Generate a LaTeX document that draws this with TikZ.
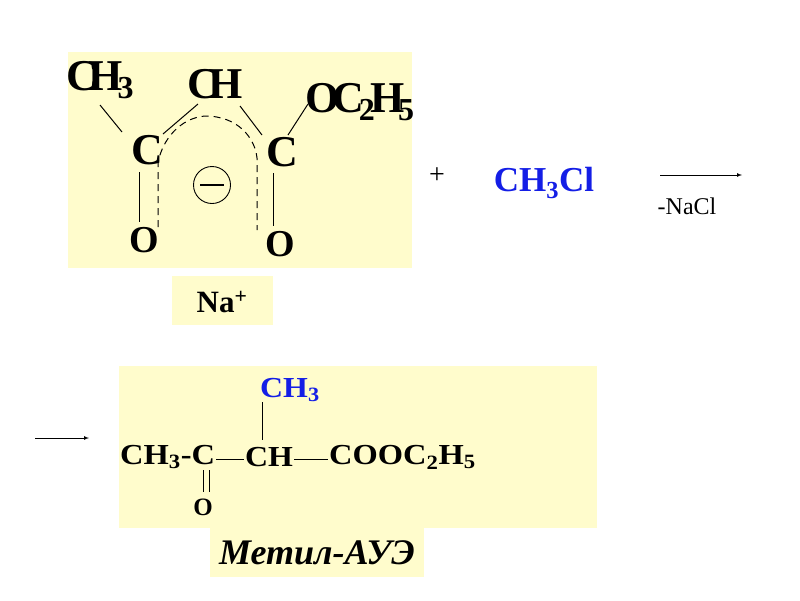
\documentclass[tikz,border=0pt]{standalone}
\usepackage{fontspec}
\setmainfont{Liberation Serif}
\begin{document}
\begin{tikzpicture}[x=1pt,y=-1pt,
  big/.style={font=\fontsize{44}{44}\selectfont\bfseries,inner sep=0pt},
  mid/.style={font=\fontsize{29}{29}\selectfont\bfseries,inner sep=0pt},
  bond/.style={line width=1pt},
  dbond/.style={line width=1pt,dash pattern=on 7pt off 5pt},
  bgbox/.style={fill=yellow!20,draw=none}]
\useasboundingbox (0,0) rectangle (800,600);
\fill[bgbox] (68,52) rectangle (412,268);
\fill[bgbox] (172,276) rectangle (273,325);
\fill[bgbox] (119,366) rectangle (597,528);
\fill[bgbox] (210,528) rectangle (424,577);
% top molecule
\node[big] (ch3) at (100,80) {C\kern-10pt H\kern-5pt\raisebox{-8pt}{\fontsize{32}{32}\selectfont 3}};
\node[big] (ch) at (215,84) {C\kern-10pt H};
\node[big] (oc) at (360,102) {O\kern-8pt C\kern-5pt\raisebox{-8pt}{\fontsize{32}{32}\selectfont 2}\kern-4pt H\kern-7pt\raisebox{-8pt}{\fontsize{32}{32}\selectfont 5}};
\node[big] (c1) at (147,150) {C};
\node[big] (c2) at (282,152) {C};
\node[big,font=\fontsize{38}{38}\selectfont\bfseries] (o1) at (144,240) {O};
\node[big,font=\fontsize{38}{38}\selectfont\bfseries] (o2) at (280,244) {O};
\node[draw,circle,minimum size=37pt,inner sep=0pt,line width=0.9pt] (minus) at (212,185) {};
\draw[line width=1.2pt] ([xshift=-12pt]minus.center) -- ([xshift=12pt]minus.center);
\draw[bond] (100,105) -- (122,132);
\draw[bond] (163,134) -- (198,104);
\draw[bond] (240,106) -- (262,135);
\draw[bond] (288,135) -- (308,104);
\draw[bond] (139,172) -- (139,222);
\draw[bond] (273,173) -- (273,226);
\draw[dbond] (158,227) -- (158,163) .. controls (162,140) and (180,118) .. (205,116) .. controls (238,116) and (255,138) .. (257,158) -- (257,230);
\node[mid,font=\fontsize{31}{31}\selectfont\bfseries] (na) at (222,302) {Na\textsuperscript{+}};
\node[font=\fontsize{28}{28}\selectfont,inner sep=0pt] (plus) at (437,176) {+};
\node[mid,font=\fontsize{35}{35}\selectfont\bfseries,text={rgb,255:red,20;green,30;blue,230}] (rg) at (544,183) {CH\textsubscript{3}Cl};
\coordinate (a1) at (660,175);
\coordinate (a2) at (742,175);
\draw[-latex,line width=0.7pt] (a1) -- (a2);
\node[font=\fontsize{24}{24}\selectfont,inner sep=0pt] (nacl) at (687,206) {-NaCl};
% bottom
\coordinate (b1) at (35,438);
\coordinate (b2) at (89,438);
\draw[-latex,line width=0.7pt] (b1) -- (b2);
\node[mid,anchor=west] (left) at (120,457) {\scalebox{1.12}[1]{CH\textsubscript{3}-C}};
\node[mid] (chb) at (269,457) {\scalebox{1.1}[1]{CH}};
\node[mid,anchor=west] (est) at (329,457) {\scalebox{1.12}[1]{COOC\textsubscript{2}H\textsubscript{5}}};
\node[mid,text={rgb,255:red,20;green,30;blue,230},anchor=west] (me) at (260,390) {\scalebox{1.1}[1]{CH\textsubscript{3}}};
\node[mid,font=\fontsize{25}{25}\selectfont\bfseries] (ob) at (203,507) {O};
\draw[bond] ([xshift=1pt,yshift=-2pt]left.east) -- ([xshift=-1pt,yshift=-2pt]chb.west);
\draw[bond] ([xshift=1pt,yshift=-2pt]chb.east) -- ([xshift=-1pt,yshift=-2pt]est.west);
\draw[bond] (262,402) -- (262,440);
\draw[bond] (203,470) -- (203,492);
\draw[bond] (209,470) -- (209,492);
\node[font=\fontsize{36}{36}\selectfont\bfseries\itshape,inner sep=0pt] (name) at (317,553) {Метил-АУЭ};
\end{tikzpicture}
\end{document}
